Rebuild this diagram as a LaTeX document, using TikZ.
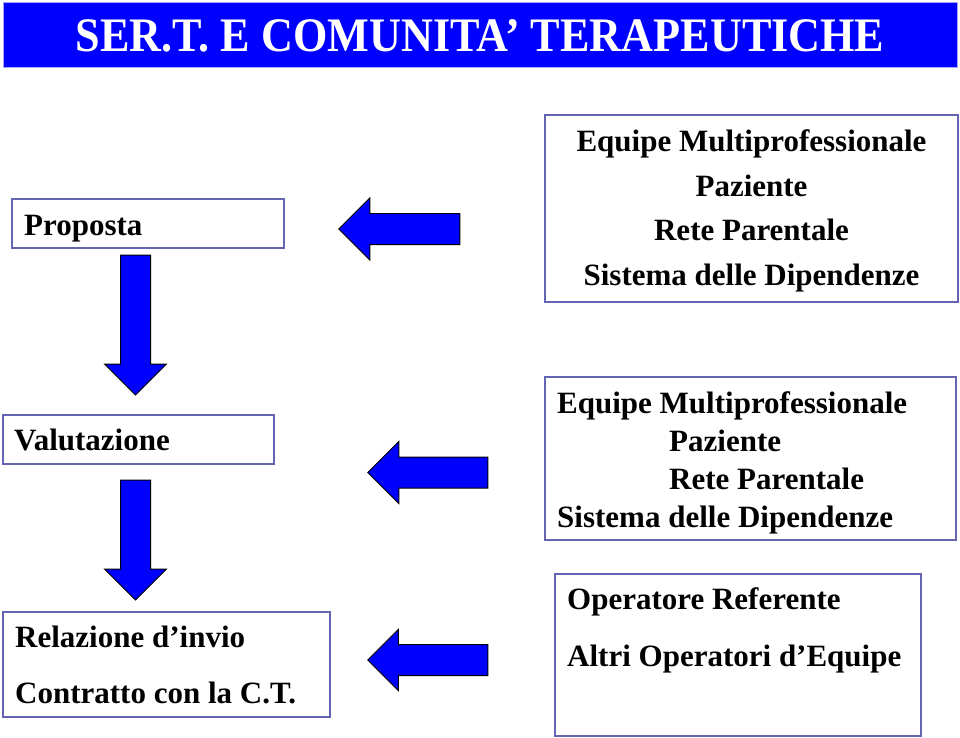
\documentclass[tikz,border=0pt]{standalone}
\usepackage{fontspec}
\setmainfont{Liberation Serif}
\usepackage{graphicx}
\usepackage{tikz}
\usetikzlibrary{shapes,positioning,calc}
\usetikzlibrary{shapes.arrows}
\definecolor{blu}{RGB}{0,0,255}
\definecolor{bordo}{RGB}{100,100,180}
\tikzstyle{riquadro} = [rectangle, draw=bordo, line width=1.6pt, inner sep=0pt]
\tikzstyle{testo} = [inner sep=0pt, anchor=base west, align=left]
\tikzstyle{freccia} = [single arrow, draw=black, line width=1pt, fill=blu, inner sep=0pt,
single arrow head indent=0pt, text height=15pt, text depth=15pt, single arrow head extend=15.5pt]

\begin{document}
\begin{tikzpicture}[x=1pt,y=-1pt]
\useasboundingbox (0,0) rectangle (960,738);
% titolo
\node (titolo) at (480,35.5) [fill=blu, draw=blu!35, line width=1pt, minimum width=954pt, minimum height=65pt, inner sep=0pt, text=white] {\resizebox{809pt}{32pt}{\bfseries SER.T. E COMUNITA’ TERAPEUTICHE}};
% colonna sinistra
\node (prop) at (148,223.5) [riquadro, minimum width=272pt, minimum height=49pt] {};
\node[testo, font=\bfseries\fontsize{31}{38}\selectfont] (tprop) at (24,235) {Proposta};
\node (valut) at (138.5,439.5) [riquadro, minimum width=271pt, minimum height=49pt] {};
\node[testo, font=\bfseries\fontsize{31}{38}\selectfont] (tvalut) at (14,450) {Valutazione};
\node (relaz) at (166.5,664.5) [riquadro, minimum width=327pt, minimum height=105pt] {};
\node[testo, font=\bfseries\fontsize{31}{56}\selectfont] (trelaz) at (15,703) {Relazione d’invio\\Contratto con la C.T.};
% colonna destra
\node (equipe1) at (751.5,208.5) [riquadro, minimum width=413pt, minimum height=187pt] {};
\node[inner sep=0pt, anchor=base, align=center, font=\bfseries\fontsize{31}{44.5}\selectfont] (tequipe1) at (751.5,285) {Equipe Multiprofessionale\\Paziente\\Rete Parentale\\Sistema delle Dipendenze};
\node (equipe2) at (750.5,458.5) [riquadro, minimum width=411pt, minimum height=163pt] {};
\node[testo, font=\bfseries\fontsize{31}{38}\selectfont] (tequipe2) at (557,527) {Equipe Multiprofessionale\\\hspace*{112pt}Paziente\\\hspace*{112pt}Rete Parentale\\Sistema delle Dipendenze};
\node (operat) at (738,655) [riquadro, minimum width=366pt, minimum height=162pt] {};
\node[testo, font=\bfseries\fontsize{31}{57}\selectfont] (toperat) at (567,666) {Operatore Referente\\Altri Operatori d’Equipe};
% frecce
\node[freccia, rotate=-90, minimum height=140pt, text height=14.5pt, text depth=14.5pt, single arrow head extend=16pt] (giu1) at (135.5,317.5) {};
\node[freccia, rotate=-90, minimum height=120pt, text height=14.5pt, text depth=14.5pt, single arrow head extend=16pt] (giu2) at (135.5,532.5) {};
\node[freccia, rotate=180, minimum height=121pt] (sx1) at (407,229) {};
\node[freccia, rotate=180, minimum height=120pt] (sx2) at (435.5,472.5) {};
\node[freccia, rotate=180, minimum height=120pt, single arrow head extend=15pt] (sx3) at (435.5,660) {};
\end{tikzpicture}
\end{document}
